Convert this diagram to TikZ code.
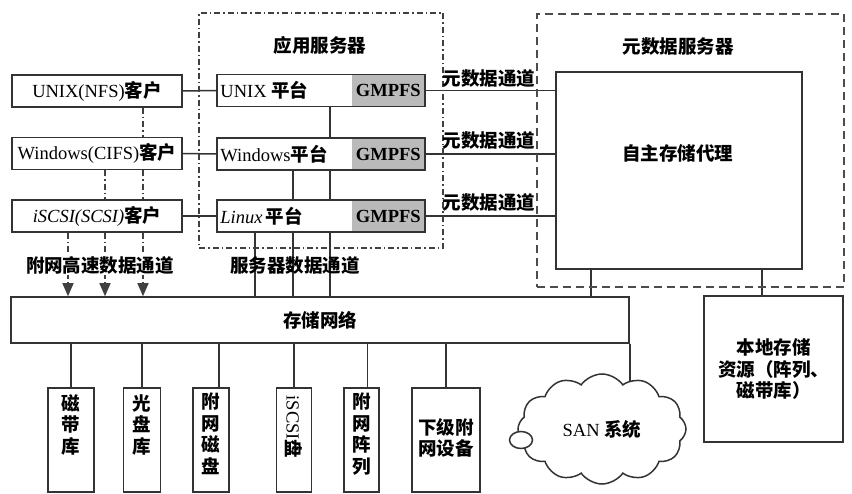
\documentclass[tikz,border=0pt]{standalone}
\usepackage{fontspec}
\setmainfont{Liberation Serif}
\newfontfamily\zhfont{Noto Sans CJK SC}
\newcommand{\zh}[1]{{\zhfont\bfseries #1}}
\newcommand{\myfs}{\fontsize{18.5}{21.5}\selectfont}
\usetikzlibrary{shapes.symbols,shapes.geometric,arrows.meta,backgrounds}
\begin{document}
\begin{tikzpicture}[x=1pt,y=-1pt,
  ln/.style={draw=black!80, line width=1.5pt},
  box/.style={draw=black!80, line width=1.5pt, fill=white, inner sep=0pt, font=\myfs},
  plat/.style={draw=black!80, line width=1.5pt, inner sep=0pt, minimum width=208, minimum height=32},
  gm/.style={fill=black!27, inner sep=0pt, minimum width=73, minimum height=32, font=\myfs\bfseries, anchor=east},
  txt/.style={inner sep=1pt, font=\myfs},
  zt/.style={inner sep=1pt, font=\myfs\zhfont\bfseries, align=center},
  dd/.style={draw=black!75, line width=1.3pt, dash pattern=on 6pt off 3pt on 1.5pt off 3pt},
  dsh/.style={draw=black!70, line width=1.6pt, dash pattern=on 8pt off 5pt},
  arr/.style={-{Triangle[length=13pt,width=11pt]}},
  vbox/.style={box, minimum height=104}
]
\useasboundingbox (0,0) rectangle (852,494);

% containers
\node[dd, minimum width=244, minimum height=235, inner sep=0pt] (apps) at (321,130.5) {};
\node[zt] (appl) at (320,45) {应用服务器};
\node[dsh, minimum width=307, minimum height=273, inner sep=0pt] (meta) at (690.5,150.5) {};
\node[zt] (metal) at (678,47) {元数据服务器};

% clients
\node[box, minimum width=170, minimum height=32] (uc) at (97,91) {UNIX(NFS)\zh{客户}};
\node[box, minimum width=170, minimum height=32] (wc) at (97,153.5) {Windows(CIFS)\zh{客户}};
\node[box, minimum width=170, minimum height=32] (ic) at (97,216) {\textit{iSCSI(SCSI)}\zh{客户}};

% platforms
\node[gm] (gu) at (425,90.5) {GMPFS};
\node[plat] (pu) at (321,90.5) {};
\node[txt, anchor=west] (pul) at ([xshift=3]pu.west) {UNIX \zh{平台}};
\node[gm] (gw) at (425,154) {GMPFS};
\node[plat] (pw) at (321,154) {};
\node[txt, anchor=west] (pwl) at ([xshift=3]pw.west) {Windows\zh{平台}};
\node[gm] (gl) at (425,216) {GMPFS};
\node[plat] (pl) at (321,216) {};
\node[txt, anchor=west] (pll) at ([xshift=3]pl.west) {\textit{Linux}\,\zh{平台}};

% agent
\node[box, minimum width=246, minimum height=197] (ag) at (679,170.5) {};
\node[zt] (agl) at (677.5,153) {自主存储代理};

% metadata channel labels
\node[zt] (m1) at (489,78) {元数据通道};
\node[zt] (m2) at (489,140) {元数据通道};
\node[zt] (m3) at (489,202) {元数据通道};

% storage network
\node[box, minimum width=618, minimum height=46, font=\myfs\zhfont\bfseries] (sn) at (320,320) {存储网络};

% local storage
\node[box, minimum width=139, minimum height=146, align=center, font=\myfs\zhfont\bfseries] (ls) at (773.5,369) {本地存储\\资源（阵列、\\磁带库）};

% channel labels
\node[zt, fill=white] (hsl) at (100,265) {附网高速数据通道};
\node[zt] (sdl) at (295,265) {服务器数据通道};

% bottom devices
\node[vbox, minimum width=46] (b1) at (71,440) {};
\node[zt, anchor=north] (b1t) at (71,393) {磁\\带\\库};
\node[vbox, minimum width=37] (b2) at (142,440) {};
\node[zt, anchor=north] (b2t) at (142,393) {光\\盘\\库};
\node[vbox, minimum width=36] (b3) at (211,440) {};
\node[zt, anchor=north] (b3t) at (211,392) {附\\网\\磁\\盘};
\node[vbox, minimum width=35] (b4) at (294,440) {};
\node[txt, rotate=-90] (b4t) at (294,427) {iSCSI\zh{盘}};
\node[vbox, minimum width=35] (b5) at (361.5,440) {};
\node[zt, anchor=north] (b5t) at (361.5,392) {附\\网\\阵\\列};
\node[vbox, minimum width=68] (b6) at (446,440) {};
\node[zt] (b6t) at (446,438) {下级附\\网设备};

% SAN cloud
\node[cloud, draw=black!80, line width=1.5pt, fill=white, cloud puffs=12, cloud puff arc=110, aspect=1.6, minimum width=168, minimum height=110, inner sep=0pt, font=\myfs] (san) at (602,429) {SAN \zh{系统}};
\node[ellipse, draw=black!80, line width=1.5pt, fill=white, minimum width=23, minimum height=17, inner sep=0pt] (bub) at (521,440) {};

\begin{scope}[on background layer]
  % client to platform
  \draw[ln] (uc.east) -- (pu.west);
  \draw[ln] (wc.east) -- (pw.west);
  \draw[ln] (ic.east) -- (pl.west);
  % platform interconnections
  \draw[ln] ([xshift=9]pu.south) -- ([xshift=9]pw.north);
  \draw[ln] ([xshift=9]pw.south) -- ([xshift=9]pl.north);
  \draw[ln] ([xshift=-28]pw.south) -- ([xshift=-28]pl.north);
  % server data channel
  \draw[ln] ([xshift=-66]pl.south) -- ([xshift=-66]pl.south |- sn.north);
  \draw[ln] ([xshift=-28]pl.south) -- ([xshift=-28]pl.south |- sn.north);
  \draw[ln] ([xshift=9]pl.south) -- ([xshift=9]pl.south |- sn.north);
  % metadata channels
  \draw[ln] (gu.east) -- (gu.east -| ag.west);
  \draw[ln] (gw.east) -- (gw.east -| ag.west);
  \draw[ln] (gl.east) -- (gl.east -| ag.west);
  % agent to networks
  \draw[ln] ([xshift=-88]ag.south) -- ([xshift=-88]ag.south |- sn.north);
  \draw[ln] ([xshift=83]ag.south) -- ([xshift=83]ag.south |- ls.north);
  % client high-speed channels
  \draw[dd] ([xshift=46]uc.south) -- ([xshift=46]wc.north);
  \draw[dd] ([xshift=46]wc.south) -- ([xshift=46]ic.north);
  \draw[dd] ([xshift=8]wc.south) -- ([xshift=8]ic.north);
  \draw[dd, arr] ([xshift=46]ic.south) -- ([xshift=46]ic.south |- sn.north);
  \draw[dd, arr] ([xshift=8]ic.south) -- ([xshift=8]ic.south |- sn.north);
  \draw[dd, arr] ([xshift=-29]ic.south) -- ([xshift=-29]ic.south |- sn.north);
  % storage network to devices
  \draw[ln] (b1.north |- sn.south) -- (b1.north);
  \draw[ln] (b2.north |- sn.south) -- (b2.north);
  \draw[ln] ([xshift=8]b3.north |- sn.south) -- ([xshift=8]b3.north);
  \draw[ln] (b4.north |- sn.south) -- (b4.north);
  \draw[ln] ([xshift=6]b5.north |- sn.south) -- ([xshift=6]b5.north);
  \draw[ln] (b6.north |- sn.south) -- (b6.north);
  \draw[ln] (sn.south east) -- (sn.south east |- san.center);
\end{scope}
\end{tikzpicture}
\end{document}
